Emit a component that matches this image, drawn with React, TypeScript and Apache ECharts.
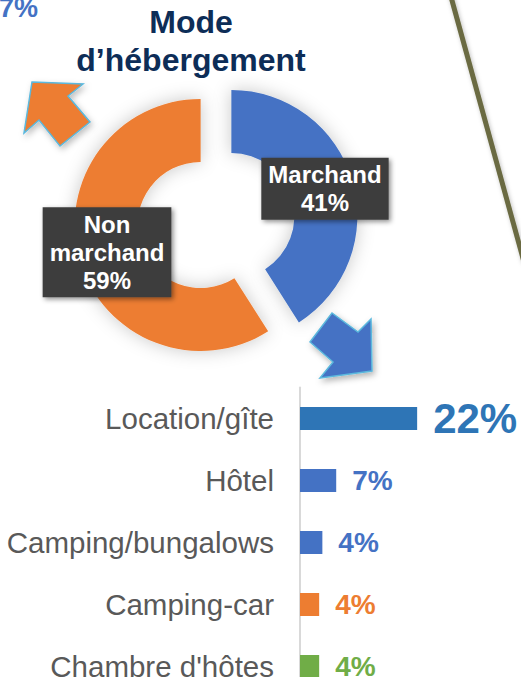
import React, { useEffect, useRef } from "react";
import * as echarts from "echarts";

const FONT = "'Liberation Sans', Arial, sans-serif";

const pieNames = ["Marchand", "Non marchand"];
const pieValues = [41, 59];
const pieColors = ["#4472C4", "#ED7D31"];

const barCategories = ["Location/gîte", "Hôtel", "Camping/bungalows", "Camping-car", "Chambre d'hôtes"];
const barValues = [22, 6.8, 4.2, 3.6, 3.6];
const barColors = ["#2E75B6", "#4472C4", "#4472C4", "#ED7D31", "#70AD47"];
const barLabelSizes = [42, 28, 28, 28, 28];

const titleText = "Mode\nd\u2019hébergement";
const cornerText = "7%";

export default function App() {
  const ref = useRef<HTMLDivElement>(null);
  useEffect(() => {
    if (!ref.current) return;
    const chart = echarts.init(ref.current, null, { renderer: "svg" });
    const arrowStroke = "#5BB8DD";
    chart.setOption({
      animation: false,
      backgroundColor: "#FFFFFF",
      textStyle: { fontFamily: FONT },
      graphic: [
        {
          type: "line",
          shape: { x1: 450.5, y1: -5, x2: 524, y2: 262 },
          style: { stroke: "#6B6B42", lineWidth: 5, shadowBlur: 4, shadowColor: "rgba(0,0,0,0.25)", shadowOffsetX: 1, shadowOffsetY: 1 },
          silent: true,
        },
        {
          type: "text",
          style: { text: cornerText, x: -1, y: 7.5, textVerticalAlign: "middle", fill: "#4472C4", font: `bold 27px ${FONT}` },
          silent: true,
        },
        {
          type: "text",
          style: {
            text: titleText, x: 191, y: 3, textAlign: "center", textVerticalAlign: "top",
            fill: "#0D2D57", font: `bold 32px ${FONT}`, lineHeight: 38,
          },
          silent: true,
        },
        {
          type: "polygon",
          shape: { points: [[32, 82], [83, 84], [68, 96], [90, 122], [60, 146], [39, 120], [24, 133]] },
          style: { fill: "#ED7D31", stroke: arrowStroke, lineWidth: 1.5, shadowBlur: 6, shadowColor: "rgba(0,0,0,0.25)", shadowOffsetX: 2, shadowOffsetY: 3 },
          silent: true,
        },
        {
          type: "polygon",
          shape: { points: [[310, 342], [332, 313], [358, 332], [371, 319], [372, 371], [320, 378], [333, 362]] },
          style: { fill: "#4472C4", stroke: arrowStroke, lineWidth: 1.5, shadowBlur: 6, shadowColor: "rgba(0,0,0,0.3)", shadowOffsetX: 2, shadowOffsetY: 3 },
          silent: true,
        },
      ],
      grid: { left: 300, top: 387.5, width: 213, height: 310, containLabel: false, outerBoundsMode: "none" },
      xAxis: { type: "value", min: 0, max: 40, show: false },
      yAxis: {
        type: "category",
        inverse: true,
        data: barCategories,
        axisLine: { show: true, lineStyle: { color: "#D9D9D9", width: 2 } },
        axisTick: { show: false },
        axisLabel: { fontSize: 29.5, color: "#595959", margin: 26, fontFamily: FONT },
      },
      series: [
        {
          type: "pie",
          silent: true,
          center: [216, 220.5],
          radius: [63, 126],
          startAngle: 90,
          clockwise: true,
          selectedMode: "multiple",
          selectedOffset: 16,
          avoidLabelOverlap: false,
          itemStyle: { shadowBlur: 18, shadowColor: "rgba(0,0,0,0.22)" },
          label: {
            show: true,
            position: "inside",
            formatter: (p: any) => p.name.replace(" ", "\n") + "\n" + Math.round(p.percent) + "%",
            color: "#FFFFFF",
            fontWeight: "bold",
            fontSize: 24,
            lineHeight: 28,
            fontFamily: FONT,
            backgroundColor: "#3D3D3D",
            padding: [3, 7],
            shadowBlur: 5,
            shadowColor: "rgba(0,0,0,0.45)",
            shadowOffsetX: 2,
            shadowOffsetY: 2,
          },
          labelLine: { show: false },
          data: pieNames.map((n, i) => ({ name: n, value: pieValues[i], selected: true, itemStyle: { color: pieColors[i] } })),
        },
        {
          type: "bar",
          silent: true,
          barWidth: 23,
          data: barValues.map((v, i) => ({
            value: v,
            itemStyle: { color: barColors[i] },
            label: {
              show: true,
              position: "right",
              distance: 16,
              formatter: (p: any) => Math.round(p.value) + "%",
              color: barColors[i],
              fontWeight: "bold",
              fontSize: barLabelSizes[i],
              fontFamily: FONT,
            },
          })),
        },
      ],
    });
    return () => chart.dispose();
  }, []);
  return <div ref={ref} style={{ position: "absolute", left: 0, top: 0, width: 521, height: 677 }} />;
}
